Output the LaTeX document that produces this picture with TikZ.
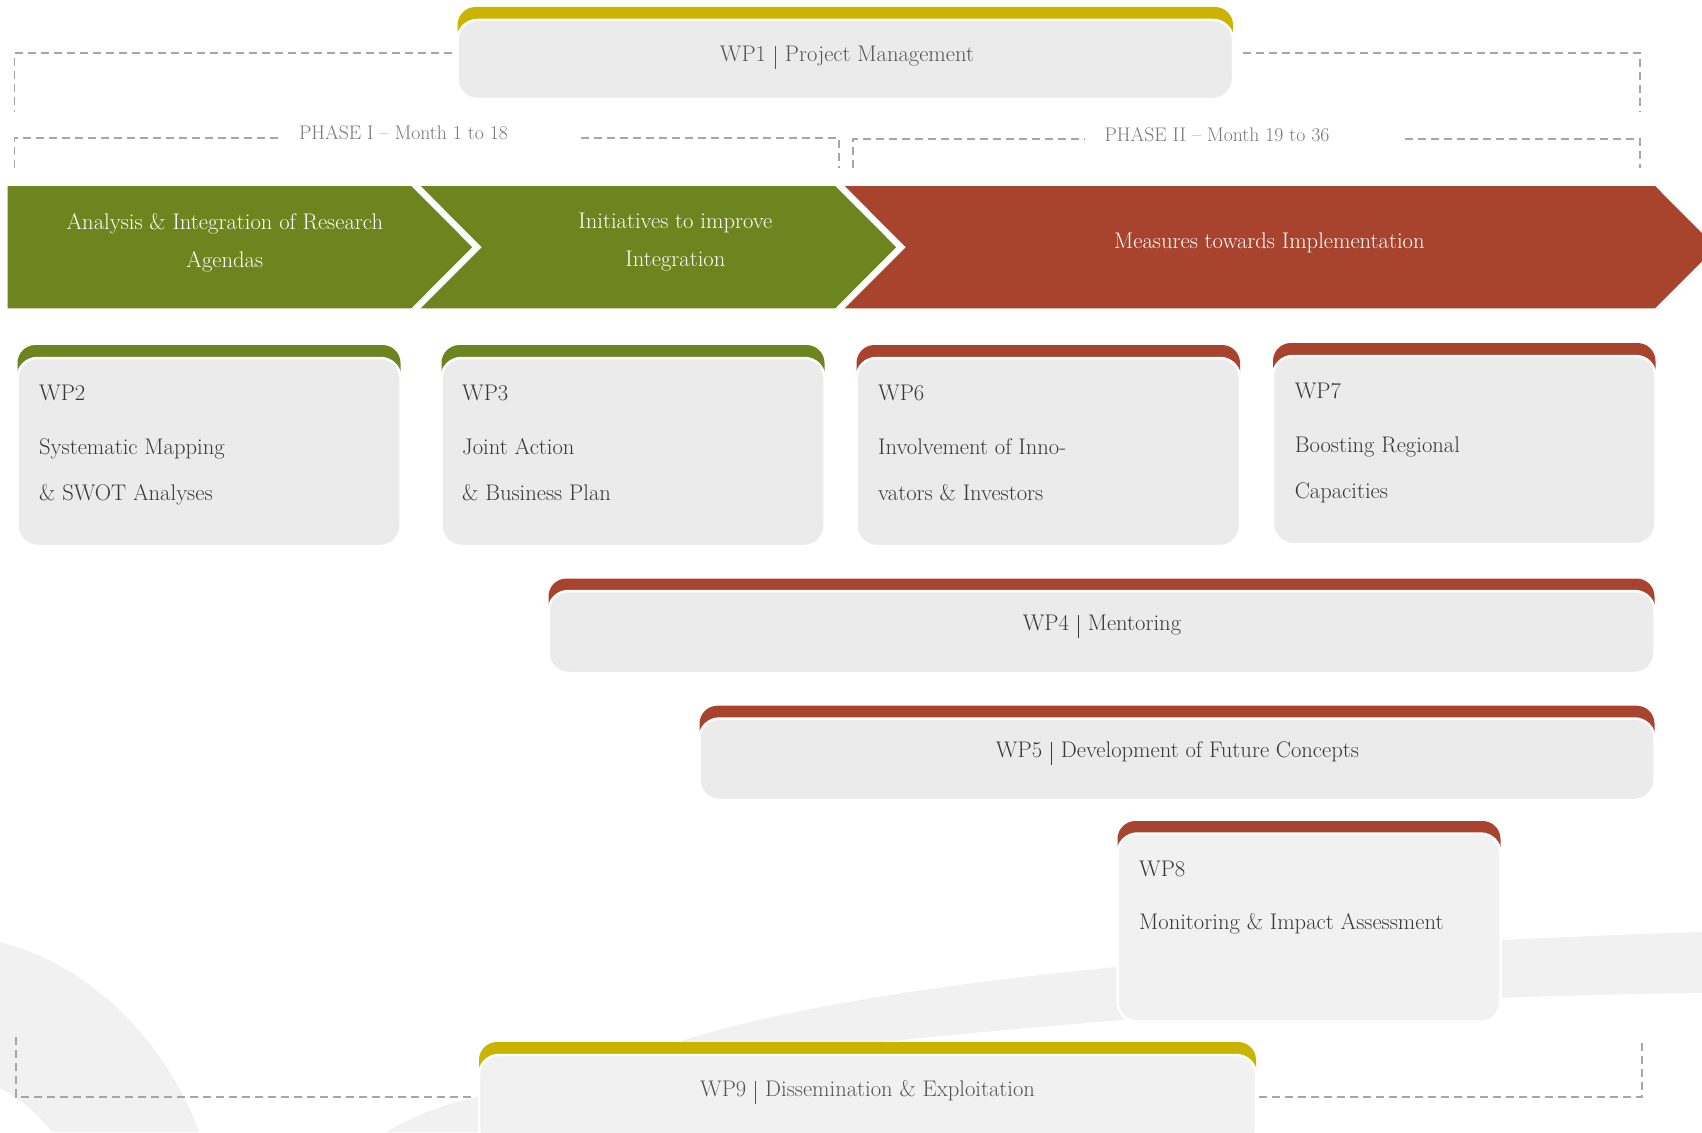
\documentclass[tikz,border=0pt]{standalone}
\usepackage{fontspec}
\definecolor{wpgold}{HTML}{CBB400}
\definecolor{wpgreen}{HTML}{6E841F}
\definecolor{wpred}{HTML}{A8432D}
\definecolor{boxgray}{HTML}{EBEBEB}
\definecolor{boxlight}{HTML}{F1F1F1}
\definecolor{bandgray}{HTML}{F1F1F1}
\definecolor{dashgray}{HTML}{A6A6A6}
\definecolor{txtdark}{HTML}{383838}
\definecolor{txtmid}{HTML}{555555}
\definecolor{phasegray}{HTML}{777777}
\tikzset{
  dashline/.style={draw=dashgray, line width=1.8pt, dash pattern=on 8pt off 5pt},
  wpframe/.style={draw=white, line width=2.5pt, rounded corners=20pt, inner sep=0pt, outer sep=0pt},
  boxtxt/.style={font=\fontsize{22.6}{46}\selectfont, text=txtdark, inner sep=0pt, align=left, anchor=north west},
  ctrtxt/.style={font=\fontsize{22.6}{26}\selectfont, text=txtdark, inner sep=0pt, anchor=base},
  chevtxt/.style={font=\fontsize{22.6}{38}\selectfont, text=white, inner sep=0pt, align=center},
  phasetxt/.style={font=\fontsize{19.7}{22}\selectfont, text=phasegray, inner sep=0pt, anchor=base},
}
\newcommand{\sepbar}{\hspace{9pt}\rule[-7.5pt]{0.8pt}{23pt}\hspace{9pt}}
% name, tab colour, fill, x1, ytab, ytop, x2, ybot
\newcommand{\drawWP}[8]{%
  \fill[#2, rounded corners=18pt] (#4,#5) rectangle (#7,#6+40);
  \node[wpframe, fill=#3, minimum width=#7pt-#4pt, minimum height=#8pt-#6pt] (#1) at ({(#4+#7)/2},{(#6+#8)/2}) {};
}
\begin{document}
\begin{tikzpicture}[x=1pt,y=-1pt]
\useasboundingbox (0,0) rectangle (1702,1132);
\fill[white] (0,0) rectangle (1702,1132);
\begin{scope}
\clip (0,0) rectangle (1702,1132);
% background swooshes
\fill[bandgray] (0,942) .. controls (90,965) and (165,1040) .. (199,1132) -- (52,1132) .. controls (35,1110) and (18,1098) .. (0,1088) -- cycle;
\fill[bandgray] (386,1132) .. controls (410,1118) and (440,1105) .. (478,1097) .. controls (800,1040) and (1300,997) .. (1702,993) -- (1702,932) .. controls (1300,945) and (900,975) .. (690,1038) .. controls (580,1075) .. (520,1132) -- cycle;
% chevrons
\fill[wpgreen] (7.7,186) -- (840,186) -- (901,247.2) -- (840,308.4) -- (7.7,308.4) -- cycle;
\fill[wpred] (840,186) -- (1655,186) -- (1716,247.2) -- (1655,308.4) -- (840,308.4) -- (901,247.2) -- cycle;
\begin{scope}
\clip (0,186) rectangle (1702,308.4);
\draw[white, line width=6.5pt] (406,176) -- (477,247.2) -- (406,318.4);
\draw[white, line width=6.5pt] (830,176) -- (901,247.2) -- (830,318.4);
\end{scope}
\node[chevtxt, anchor=north] (ch1) at (224.8,213.1) {Analysis \& Integration of Research\\Agendas};
\node[chevtxt, anchor=north] (ch2) at (675.4,212.9) {Initiatives to improve\\Integration};
\node[chevtxt, anchor=base] (ch3) at (1269.4,248.3) {Measures towards Implementation};
% work package boxes
\drawWP{wp1}{wpgold}{boxgray}{457.5}{7}{20}{1233}{99}
\drawWP{wp2}{wpgreen}{boxgray}{17.5}{345}{358}{400.5}{546}
\drawWP{wp3}{wpgreen}{boxgray}{441.5}{345}{358}{824.5}{546}
\drawWP{wp6}{wpred}{boxgray}{856.5}{345}{358}{1240}{546}
\drawWP{wp7}{wpred}{boxgray}{1273}{343}{356}{1655.5}{544}
\drawWP{wp4}{wpred}{boxgray}{548.5}{578.5}{591}{1654.5}{673}
\drawWP{wp5}{wpred}{boxgray}{699.5}{705.7}{718.5}{1654.5}{800}
\drawWP{wp8}{wpred}{boxlight}{1117.5}{821}{833.5}{1500.5}{1021.7}
\drawWP{wp9}{wpgold}{boxlight}{479}{1042}{1055}{1256}{1150}
% box texts
\node[ctrtxt, text=txtmid] (wp1t) at (847,61.7) {WP1\sepbar Project Management};
\node[boxtxt] (wp2t) at (39,384.6) {WP2\\[8pt]Systematic Mapping\\\& SWOT Analyses};
\node[boxtxt] (wp3t) at (462,384.6) {WP3\\[8pt]Joint Action\\\& Business Plan};
\node[boxtxt] (wp6t) at (878,384.6) {WP6\\[8pt]Involvement of Inno-\\vators \& Investors};
\node[boxtxt] (wp7t) at (1294.6,382.9) {WP7\\[8pt]Boosting Regional\\Capacities};
\node[ctrtxt] (wp4t) at (1102,630.7) {WP4\sepbar Mentoring};
\node[ctrtxt] (wp5t) at (1177.5,757.3) {WP5\sepbar Development of Future Concepts};
\node[boxtxt] (wp8t) at (1139,860.6) {WP8\\[7pt]Monitoring \& Impact Assessment};
\node[ctrtxt, text=txtmid] (wp9t) at (867.6,1096) {WP9\sepbar Dissemination \& Exploitation};
% phase labels
\node[phasetxt] (ph1) at (403.5,139.3) {PHASE I – Month 1 to 18};
\node[phasetxt] (ph2) at (1217,141.5) {PHASE II – Month 19 to 36};
% dashed brackets
\coordinate (tlc) at (14.5,112);
\coordinate (trc) at (1640,112);
\draw[dashline] ([xshift=-6pt,yshift=6.2pt]wp1.west) -| (tlc);
\draw[dashline] ([xshift=10pt,yshift=6.2pt]wp1.east) -| (trc);
\coordinate (p1a) at (14.5,168);
\coordinate (p1b) at (279,137.7);
\coordinate (p1c) at (581,137.7);
\coordinate (p1d) at (839,168);
\coordinate (p2a) at (853,168);
\coordinate (p2b) at (1085,139);
\coordinate (p2c) at (1405,139);
\coordinate (p2d) at (1640,168);
\draw[dashline] (p1a) |- (p1b);
\draw[dashline] (p1c) -| (p1d);
\draw[dashline] (p2a) |- (p2b);
\draw[dashline] (p2c) -| (p2d);
\coordinate (bl) at (16,1037);
\coordinate (blc) at (16,1096.7);
\coordinate (br) at (1642,1039);
\coordinate (brc) at (1642,1096.7);
\draw[dashline] (bl) -- (blc) -- ([xshift=-4pt]wp9.west |- blc);
\draw[dashline] ([xshift=3pt]wp9.east |- brc) -- (brc) -- (br);
\end{scope}
\end{tikzpicture}
\end{document}
